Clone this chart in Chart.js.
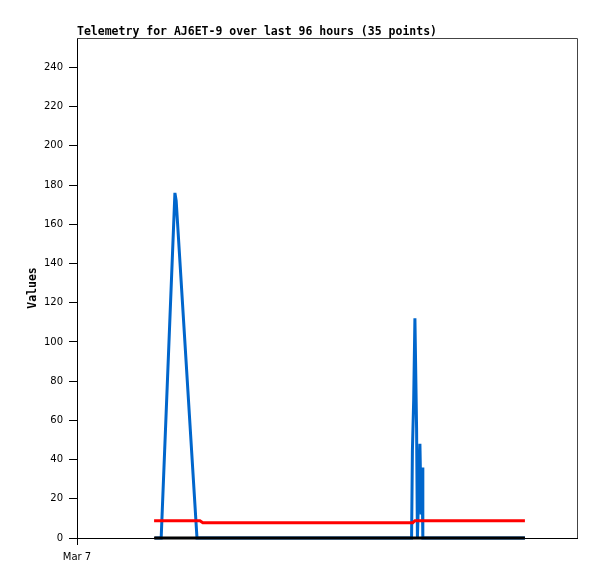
<!DOCTYPE html>
<html>
<head>
<meta charset="utf-8">
<script src="https://cdn.jsdelivr.net/npm/chart.js@4/dist/chart.umd.min.js"></script>
<style>
  body { margin: 0; background: #fff; }
  #chart { display: block; }
</style>
</head>
<body>
<canvas id="chart" width="597" height="579"></canvas>
<script>
// ===== telemetry chart =====
// x values are hours after Mar 7 00:00
const titleText = "Telemetry for AJ6ET-9 over last 96 hours (35 points)";
const yTicks = [0, 20, 40, 60, 80, 100, 120, 140, 160, 180, 200, 220, 240];
const xTickLabel = "Mar 7";

const blueHours = [18.7, 20.2, 23.5, 23.8, 28.8, 80.3, 80.5, 80.8, 81.1, 81.5, 81.7, 82.3, 82.6, 82.8, 83.0, 107.5];
const blueValues = [0, 0, 176, 172, 0, 0, 45, 70, 112, 56, 0, 48, 12, 36, 0, 0];

const redHours = [18.5, 29.5, 30.2, 80.6, 81.1, 107.5];
const redValues = [8.8, 8.8, 7.8, 7.8, 8.8, 8.8];

const blackHours = [18.5, 107.5];
const blackValues = [0, 0];

const toPoints = (xs, ys) => xs.map((x, i) => ({ x: x, y: ys[i] }));

// title + grey frame on top/right
const framePlugin = {
  id: "frame",
  afterDraw(chart) {
    const ctx = chart.ctx;
    const a = chart.chartArea;
    ctx.save();
    ctx.strokeStyle = "#444";
    ctx.lineWidth = 1;
    ctx.beginPath();
    ctx.moveTo(a.left, a.top + 0.5);
    ctx.lineTo(a.right + 0.5, a.top + 0.5);
    ctx.lineTo(a.right + 0.5, a.bottom);
    ctx.stroke();
    ctx.fillStyle = "#000";
    ctx.font = "bold 11.5px 'DejaVu Sans Mono'";
    ctx.textBaseline = "alphabetic";
    ctx.fillText(titleText, 77, 35);
    ctx.restore();
  }
};

new Chart(document.getElementById("chart"), {
  type: "line",
  data: {
    datasets: [
      { data: toPoints(blackHours, blackValues), borderColor: "#000", borderWidth: 3, order: 0 },
      { data: toPoints(redHours, redValues), borderColor: "#ff0000", borderWidth: 3, order: 1 },
      { data: toPoints(blueHours, blueValues), borderColor: "#0066cc", borderWidth: 3, order: 2 }
    ]
  },
  options: {
    responsive: false,
    devicePixelRatio: 1,
    animation: false,
    clip: false,
    elements: { point: { radius: 0 }, line: { tension: 0 } },
    layout: { padding: { top: 38, right: 20, left: 26, bottom: 0 } },
    plugins: { legend: { display: false }, tooltip: { enabled: false } },
    scales: {
      x: {
        type: "linear",
        min: 0,
        max: 120,
        afterBuildTicks: s => { s.ticks = [{ value: 0 }]; },
        afterFit: s => { s.height = 41; },
        border: { color: "#000", width: 1 },
        grid: { drawOnChartArea: false, color: "#000", tickLength: 7 },
        ticks: {
          callback: () => xTickLabel,
          color: "#000",
          padding: 6,
          maxRotation: 0,
          font: { family: "'DejaVu Sans'", size: 10 }
        }
      },
      y: {
        min: 0,
        max: 255,
        afterBuildTicks: s => { s.ticks = yTicks.map(v => ({ value: v })); },
        afterFit: s => { s.width = 51; },
        border: { color: "#000", width: 1 },
        grid: { drawOnChartArea: false, color: "#000", tickLength: 8 },
        title: {
          display: true,
          text: "Values",
          color: "#000",
          padding: 0,
          font: { family: "'DejaVu Sans Mono'", size: 11.5, weight: "bold" }
        },
        ticks: {
          color: "#000",
          padding: 6,
          font: { family: "'DejaVu Sans'", size: 10 }
        }
      }
    }
  },
  plugins: [framePlugin]
});
</script>
</body>
</html>
